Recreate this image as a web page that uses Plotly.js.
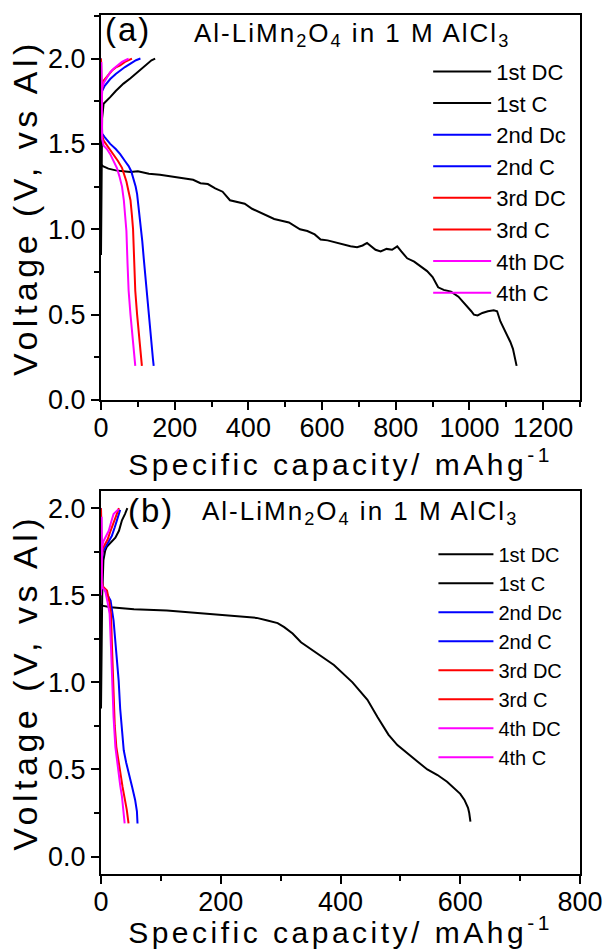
<!DOCTYPE html>
<html>
<head>
<meta charset="utf-8">
<script src="https://cdn.plot.ly/plotly-3.0.1.min.js"></script>
<style>
  html, body { margin: 0; padding: 0; background: #fff; }
  text.xtitle, text.x2title { letter-spacing: 3.5px; }
  text.ytitle, text.y2title { letter-spacing: 4.5px; }
  text.annotation-text { letter-spacing: 2px; }
</style>
</head>
<body>
<div id="chart" style="width:608px;height:949px;"></div>
<script>
// ---------- Panel (a) ----------
const a_dc1_cap = [0, 5, 20, 40, 60, 80, 100, 130, 160, 190, 220, 250, 270, 290, 310, 330, 350, 370, 390, 410, 430, 450, 470, 490, 510, 540, 560, 580, 596, 615, 640, 660, 677, 695, 710, 722, 735, 745, 759, 775, 790, 804, 815, 831, 850, 870, 885, 900, 915, 930, 950, 970, 990, 1005, 1012, 1022, 1035, 1050, 1066, 1075, 1084, 1095, 1105, 1111, 1118, 1123, 1128];
const a_dc1_v   = [1.38, 1.37, 1.355, 1.345, 1.34, 1.335, 1.34, 1.325, 1.32, 1.31, 1.30, 1.29, 1.27, 1.265, 1.24, 1.22, 1.17, 1.16, 1.15, 1.12, 1.10, 1.08, 1.06, 1.05, 1.04, 1.00, 0.99, 0.97, 0.94, 0.935, 0.92, 0.91, 0.90, 0.895, 0.905, 0.92, 0.90, 0.88, 0.87, 0.885, 0.88, 0.90, 0.87, 0.83, 0.81, 0.78, 0.755, 0.72, 0.66, 0.645, 0.635, 0.605, 0.56, 0.52, 0.50, 0.495, 0.51, 0.52, 0.525, 0.52, 0.46, 0.41, 0.37, 0.34, 0.30, 0.25, 0.20];
const a_c1_cap  = [0, 1, 2, 3, 7, 15, 25, 40, 61, 80, 98, 112, 125, 137, 147];
const a_c1_v    = [0.85, 1.2, 1.5, 1.65, 1.735, 1.755, 1.774, 1.81, 1.853, 1.885, 1.92, 1.945, 1.97, 1.99, 2.0];
const a_dc2_cap = [0, 1, 3, 10, 25, 40, 52, 65, 75, 82, 88, 94, 98, 103, 107, 112, 116, 120, 125, 129, 134, 138, 141, 143];
const a_dc2_v   = [2.0, 1.6, 1.56, 1.54, 1.50, 1.47, 1.44, 1.40, 1.37, 1.34, 1.30, 1.25, 1.206, 1.12, 1.05, 0.93, 0.83, 0.735, 0.60, 0.48, 0.38, 0.30, 0.24, 0.20];
const a_c2_cap  = [0, 1, 3, 10, 25, 40, 52, 65, 80, 95, 107];
const a_c2_v    = [1.55, 1.70, 1.81, 1.84, 1.88, 1.91, 1.93, 1.95, 1.97, 1.99, 2.0];
const a_dc3_cap = [0, 1, 3, 7, 20, 34, 46, 57, 64, 69, 75, 80, 84, 87, 90, 93, 98, 102, 106, 109, 111];
const a_dc3_v   = [2.0, 1.6, 1.55, 1.52, 1.48, 1.44, 1.40, 1.36, 1.32, 1.28, 1.22, 1.17, 1.08, 1.0, 0.82, 0.64, 0.50, 0.40, 0.30, 0.24, 0.20];
const a_c3_cap  = [0, 1, 3, 7, 18, 30, 42, 52, 65, 75, 84];
const a_c3_v    = [1.55, 1.72, 1.82, 1.87, 1.90, 1.93, 1.95, 1.96, 1.98, 1.99, 2.0];
const a_dc4_cap = [1, 1.5, 3, 7, 16, 25, 34, 43, 50, 57, 62, 66, 69, 72, 75, 80, 84, 88, 91, 93];
const a_dc4_v   = [1.98, 1.57, 1.53, 1.49, 1.47, 1.44, 1.40, 1.36, 1.31, 1.25, 1.17, 1.09, 0.99, 0.80, 0.64, 0.50, 0.40, 0.30, 0.24, 0.20];
const a_c4_cap  = [0, 1, 3, 8, 16, 25, 34, 45, 57, 66, 75];
const a_c4_v    = [1.55, 1.74, 1.83, 1.86, 1.89, 1.92, 1.94, 1.96, 1.98, 1.99, 2.0];

// ---------- Panel (b) ----------
const b_dc1_cap = [0, 2, 16, 55, 110, 166, 222, 260, 278, 295, 306, 320, 334, 360, 389, 420, 445, 462, 480, 495, 512, 529, 545, 562, 578, 590, 600, 607, 613, 615, 617];
const b_dc1_v   = [1.45, 1.44, 1.431, 1.42, 1.412, 1.397, 1.384, 1.37, 1.355, 1.34, 1.317, 1.28, 1.23, 1.17, 1.10, 1.0, 0.90, 0.80, 0.70, 0.64, 0.59, 0.544, 0.50, 0.468, 0.43, 0.39, 0.36, 0.325, 0.28, 0.25, 0.20];
const b_c1_cap  = [0, 1, 2, 4, 7, 10, 16, 24, 30, 35, 40, 44];
const b_c1_v    = [0.85, 1.2, 1.5, 1.70, 1.756, 1.78, 1.80, 1.83, 1.87, 1.93, 1.966, 2.0];
const b_dc2_cap = [0, 1, 2, 4, 10, 16, 21, 25, 27, 29.5, 32, 35, 38, 42, 46, 52, 57, 60, 61];
const b_dc2_v   = [2.0, 1.6, 1.56, 1.545, 1.51, 1.47, 1.355, 1.20, 1.126, 1.01, 0.85, 0.72, 0.61, 0.54, 0.477, 0.40, 0.325, 0.26, 0.19];
const b_c2_cap  = [0, 1, 3, 7, 12, 18, 23, 27, 30, 32];
const b_c2_v    = [1.5, 1.68, 1.75, 1.775, 1.80, 1.84, 1.89, 1.93, 1.97, 1.99];
const b_dc3_cap = [0, 1, 3, 6, 10, 14, 16.7, 18.4, 20, 21, 23, 25.6, 29, 32, 36, 39, 43, 46];
const b_dc3_v   = [2.0, 1.6, 1.55, 1.54, 1.527, 1.46, 1.393, 1.20, 1.03, 0.897, 0.75, 0.63, 0.55, 0.477, 0.40, 0.344, 0.27, 0.19];
const b_c3_cap  = [0, 1, 3, 6, 11, 16, 21, 25, 28, 30];
const b_c3_v    = [1.5, 1.70, 1.77, 1.79, 1.82, 1.87, 1.92, 1.95, 1.98, 2.0];
const b_dc4_cap = [1, 1, 3, 7, 11, 14.4, 16.7, 18.4, 19.5, 21, 24, 27, 29.5, 32, 35, 37.5, 39.5];
const b_dc4_v   = [1.95, 1.57, 1.54, 1.527, 1.46, 1.393, 1.20, 1.03, 0.95, 0.80, 0.63, 0.54, 0.477, 0.41, 0.344, 0.27, 0.19];
const b_c4_cap  = [0, 1, 2, 4, 8, 13, 17, 21, 25, 29.5];
const b_c4_v    = [1.5, 1.72, 1.78, 1.81, 1.84, 1.87, 1.92, 1.966, 1.98, 1.994];

const seriesNames = ['1st DC', '1st C', '2nd Dc', '2nd C', '3rd DC', '3rd C', '4th DC', '4th C'];
const seriesColors = ['#000000', '#000000', '#0000FF', '#0000FF', '#FF0000', '#FF0000', '#FF00FF', '#FF00FF'];
const xTickVals = { a: [0, 200, 400, 600, 800, 1000, 1200], b: [0, 200, 400, 600, 800] };

const panelA = [[a_dc1_cap, a_dc1_v], [a_c1_cap, a_c1_v], [a_dc2_cap, a_dc2_v], [a_c2_cap, a_c2_v],
                [a_dc3_cap, a_dc3_v], [a_c3_cap, a_c3_v], [a_dc4_cap, a_dc4_v], [a_c4_cap, a_c4_v]];
const panelB = [[b_dc1_cap, b_dc1_v], [b_c1_cap, b_c1_v], [b_dc2_cap, b_dc2_v], [b_c2_cap, b_c2_v],
                [b_dc3_cap, b_dc3_v], [b_c3_cap, b_c3_v], [b_dc4_cap, b_dc4_v], [b_c4_cap, b_c4_v]];

const traces = [];
panelA.forEach((s, i) => traces.push({
  x: s[0], y: s[1], type: 'scatter', mode: 'lines', name: seriesNames[i],
  line: { color: seriesColors[i], width: 2 }, xaxis: 'x', yaxis: 'y', legend: 'legend'
}));
panelB.forEach((s, i) => traces.push({
  x: s[0], y: s[1], type: 'scatter', mode: 'lines', name: seriesNames[i],
  line: { color: seriesColors[i], width: 2 }, xaxis: 'x2', yaxis: 'y2', legend: 'legend2'
}));

const FONT = 'Liberation Sans, Arial, sans-serif';
function xAxis(range, vals, anchor) {
  return {
    anchor: anchor, domain: [0, 1], range: range, tickvals: vals, ticktext: vals.map(String),
    ticks: 'outside', ticklen: 8, tickwidth: 2, tickcolor: '#000', ticklabelstandoff: -5,
    minor: { dtick: 100, tick0: 0, ticks: 'outside', ticklen: 5, tickwidth: 2, tickcolor: '#000' },
    showline: true, linewidth: 2, linecolor: '#000', mirror: true,
    showgrid: false, zeroline: false, automargin: false,
    tickfont: { size: 27, family: FONT, color: '#000' },
    title: { text: 'Specific capacity/ mAhg<sup>-1</sup>', font: { size: 30, family: FONT, color: '#000' }, standoff: 4 }
  };
}
function yAxis(range, domain, anchor) {
  return {
    anchor: anchor, domain: domain, range: range, dtick: 0.5, tick0: 0, tickformat: '.1f',
    ticks: 'outside', ticklen: 8, tickwidth: 2, tickcolor: '#000',
    minor: { dtick: 0.25, tick0: 0, ticks: 'outside', ticklen: 5, tickwidth: 2, tickcolor: '#000' },
    showline: true, linewidth: 2, linecolor: '#000', mirror: true,
    showgrid: false, zeroline: false, automargin: false,
    tickfont: { size: 27, family: FONT, color: '#000' },
    title: { text: 'Voltage (V, vs Al)', font: { size: 34, family: FONT, color: '#000' }, standoff: 0 }
  };
}

const layout = {
  width: 608, height: 949,
  margin: { l: 101, r: 28, t: 15, b: 75 },
  paper_bgcolor: '#fff', plot_bgcolor: '#fff',
  font: { family: FONT, color: '#000' },
  showlegend: true,
  xaxis: xAxis([0, 1300], xTickVals.a, 'y'),
  yaxis: yAxis([0, 2.255], [0.5518, 1], 'x'),
  xaxis2: xAxis([0, 800], xTickVals.b, 'y2'),
  yaxis2: yAxis([-0.1, 2.1], [0, 0.4462], 'x2'),
  legend: { x: 0.683, y: 0.9585, xanchor: 'left', yanchor: 'top', bgcolor: 'rgba(0,0,0,0)',
            borderwidth: 0, font: { size: 22, family: FONT, color: '#000' }, itemwidth: 58, tracegroupgap: 0 },
  legend2: { x: 0.694, y: 0.395, xanchor: 'left', yanchor: 'top', bgcolor: 'rgba(0,0,0,0)',
            borderwidth: 0, font: { size: 20, family: FONT, color: '#000' }, itemwidth: 55, tracegroupgap: 0 },
  annotations: [
    { text: '(a)', xref: 'paper', yref: 'paper', x: 0.004, y: 0.983, xanchor: 'left', yanchor: 'middle',
      showarrow: false, font: { size: 33, family: FONT, color: '#000' } },
    { text: 'Al-LiMn<sub>2</sub>O<sub>4</sub> in 1 M AlCl<sub>3</sub>', xref: 'paper', yref: 'paper', x: 0.189, y: 0.977,
      xanchor: 'left', yanchor: 'middle', showarrow: false, font: { size: 26, family: FONT, color: '#000' } },
    { text: '(b)', xref: 'paper', yref: 'paper', x: 0.052, y: 0.4226, xanchor: 'left', yanchor: 'middle',
      showarrow: false, font: { size: 33, family: FONT, color: '#000' } },
    { text: 'Al-LiMn<sub>2</sub>O<sub>4</sub> in 1 M AlCl<sub>3</sub>', xref: 'paper', yref: 'paper', x: 0.2067, y: 0.4203,
      xanchor: 'left', yanchor: 'middle', showarrow: false, font: { size: 26, family: FONT, color: '#000' } }
  ]
};

Plotly.newPlot('chart', traces, layout, { displayModeBar: false, staticPlot: true });
</script>
</body>
</html>
